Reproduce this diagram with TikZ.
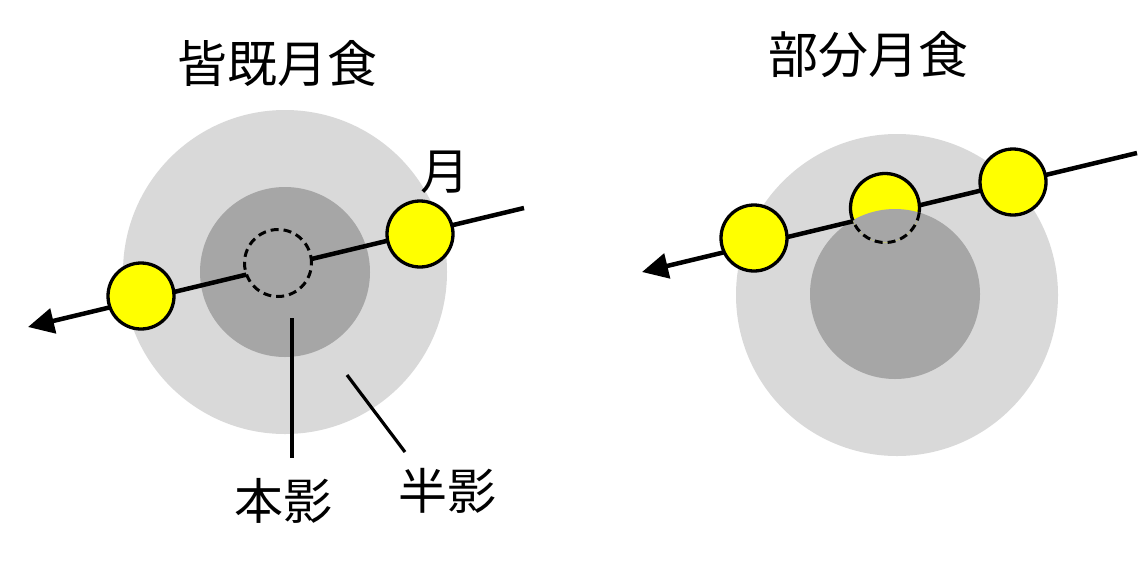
\documentclass[tikz,border=0pt]{standalone}
\usepackage{fontspec}
\newfontfamily\cjk{Noto Sans CJK JP}
\usetikzlibrary{arrows.meta,calc}
\definecolor{penum}{HTML}{D9D9D9}
\definecolor{umbr}{HTML}{A6A6A6}
\definecolor{moony}{HTML}{FFFF00}
\tikzset{
  penumbra/.style={fill=penum},
  umbra/.style={fill=umbr},
  orbit/.style={line width=4.5pt,-{Triangle[length=26pt,width=25pt]}},
  moon/.style={circle,draw=black,line width=3.3pt,fill=moony,minimum size=66pt,inner sep=0pt},
  hidden/.style={circle,draw=black,line width=3pt,dash pattern=on 8pt off 5pt,fill=umbr,minimum size=67pt,inner sep=0pt},
  leader/.style={line width=3.2pt},
  title/.style={font=\cjk\fontsize{50}{60}\selectfont,inner sep=0pt},
  label/.style={font=\cjk\fontsize{49}{58}\selectfont,inner sep=0pt},
}
\begin{document}
\begin{tikzpicture}[x=1pt,y=-1pt]
\useasboundingbox (0,0) rectangle (1139,563);
% ---------- total eclipse ----------
\fill[penumbra] (285,272) circle (162);
\fill[umbra] (285,272) circle (85);
\coordinate (Lstart) at (524,208);
\coordinate (Ltip) at (28,327);
\draw[orbit] (Lstart) -- (Ltip);
\node[hidden] (Lhid) at (278,263) {};
\node[moon] (Lm1) at (420,234) {};
\node[moon] (Lm2) at (141,296) {};
\node[title] (Lt) at (277.5,63.5) {皆既月食};
\node[label] (Lmoon) at (445,172) {月};
\node[label] (Lhon) at (283,501) {本影};
\node[label] (Lhan) at (447,491) {半影};
\coordinate (Lh1) at (292,318);
\coordinate (Lh2) at (292,458);
\draw[leader] (Lh1) -- (Lh2);
\coordinate (Lp1) at (347,375);
\coordinate (Lp2) at (405,452);
\draw[leader] (Lp1) -- (Lp2);
% ---------- partial eclipse ----------
\fill[penumbra] (897,295) circle (161);
\fill[umbra] (895,294) circle (85);
\coordinate (Rstart) at (1137,153);
\coordinate (Rtip) at (642,272);
\draw[orbit] (Rstart) -- (Rtip);
\node[moon] (Rm1) at (1013,182) {};
\node[moon] (Rm3) at (754,238) {};
\node[moon,draw=none,minimum size=69pt] (Rm2) at (885,208) {};
\begin{scope}
  \clip (885,208) circle (34.5);
  \fill[umbra] (895,294) circle (85);
\end{scope}
\draw[line width=3pt,dash pattern=on 8pt off 5pt] ($(885,208)+(7.6:34.5)$) arc[start angle=7.6,end angle=159.2,radius=34.5];
\draw[line width=3.3pt] ($(885,208)+(159.2:34.5)$) arc[start angle=159.2,end angle=367.6,radius=34.5];
\node[title] (Rt) at (868,55) {部分月食};
\end{tikzpicture}
\end{document}
